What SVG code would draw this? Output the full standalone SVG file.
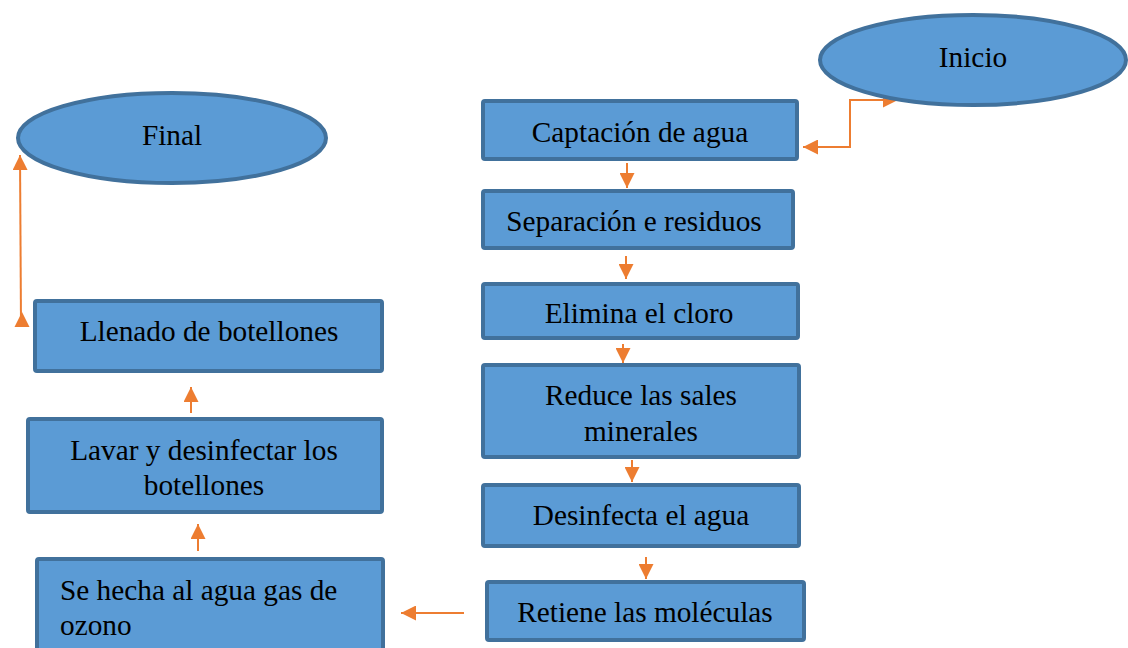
<svg xmlns="http://www.w3.org/2000/svg" width="1128" height="648" viewBox="0 0 1128 648">
<defs>
<style>
.n{fill:#5B9BD5;stroke:#41719C;stroke-width:4}
.t{font-family:"Liberation Serif","Times New Roman",serif;font-size:29.3px;fill:#000;text-anchor:middle}
.c{fill:none;stroke:#ED7D31;stroke-width:2}
.h{fill:#ED7D31}
</style>
<marker id="a" viewBox="0 0 10 10" refX="10" refY="5" markerWidth="15" markerHeight="15" markerUnits="userSpaceOnUse" orient="auto"><path d="M0,0L10,5L0,10z" fill="#ED7D31"/></marker>
<marker id="s" viewBox="0 0 10 10" refX="0" refY="5" markerWidth="15" markerHeight="15" markerUnits="userSpaceOnUse" orient="auto"><path d="M10,0L0,5L10,10z" fill="#ED7D31"/></marker>
</defs>
<rect width="1128" height="648" fill="#fff"/>
<g id="connectors">
<path class="c" d="M803,147H850V100H898" marker-start="url(#s)" marker-end="url(#a)"/>
<path class="c" d="M627,163V188" marker-end="url(#a)"/>
<path class="c" d="M626,256V279" marker-end="url(#a)"/>
<path class="c" d="M623,344V363" marker-end="url(#a)"/>
<path class="c" d="M632,460V482" marker-end="url(#a)"/>
<path class="c" d="M646,557V579" marker-end="url(#a)"/>
<path class="c" d="M464,613H401" marker-end="url(#a)"/>
<path class="c" d="M198,551V524" marker-end="url(#a)"/>
<path class="c" d="M191,413V387" marker-end="url(#a)"/>
<path class="c" d="M21,325L20,155" marker-end="url(#a)"/>
<path class="h" d="M22,312L29.5,327L14.5,327z"/>
</g>
<g id="inicio"><ellipse class="n" cx="973" cy="60" rx="153" ry="45"/><text class="t" x="973" y="67">Inicio</text></g>
<g id="final"><ellipse class="n" cx="172" cy="138" rx="154" ry="45"/><text class="t" x="172" y="145">Final</text></g>
<g id="captacion"><rect class="n" x="483" y="101" width="314" height="58" rx="2"/><text class="t" x="640" y="142">Captación de agua</text></g>
<g id="separacion"><rect class="n" x="483" y="191" width="310" height="57" rx="2"/><text class="t" x="634" y="231">Separación e residuos</text></g>
<g id="elimina"><rect class="n" x="483" y="284" width="315" height="54" rx="2"/><text class="t" x="639" y="323">Elimina el cloro</text></g>
<g id="reduce"><rect class="n" x="483" y="365" width="316" height="92" rx="2"/><text class="t" x="641" y="405">Reduce las sales</text><text class="t" x="641" y="441">minerales</text></g>
<g id="desinfecta"><rect class="n" x="483" y="485" width="316" height="61" rx="2"/><text class="t" x="641" y="525">Desinfecta el agua</text></g>
<g id="retiene"><rect class="n" x="487" y="582" width="317" height="58" rx="2"/><text class="t" x="645" y="622">Retiene las moléculas</text></g>
<g id="ozono"><rect class="n" x="37" y="559" width="346" height="100" rx="2"/><text class="t" x="60" y="600" style="text-anchor:start">Se hecha al agua gas de</text><text class="t" x="60" y="635" style="text-anchor:start">ozono</text></g>
<g id="lavar"><rect class="n" x="28" y="419" width="354" height="93" rx="2"/><text class="t" x="204" y="460">Lavar y desinfectar los</text><text class="t" x="204" y="495">botellones</text></g>
<g id="llenado"><rect class="n" x="35" y="301" width="347" height="70" rx="2"/><text class="t" x="209" y="341">Llenado de botellones</text></g>
</svg>
